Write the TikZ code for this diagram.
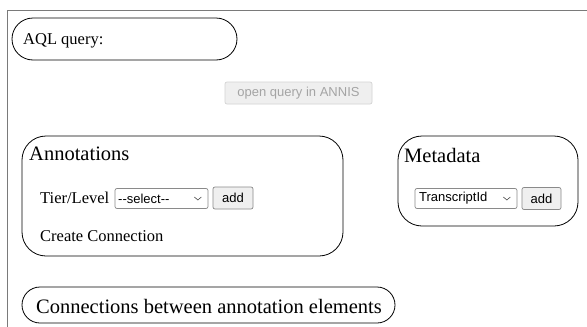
\documentclass[tikz,border=0pt]{standalone}
\usepackage{fontspec}
\setmainfont{Liberation Serif}
\newfontfamily\uisans{Liberation Sans}
\definecolor{btnfill}{HTML}{EFEFEF}
\definecolor{btnborder}{HTML}{8A8A8A}
\definecolor{disborder}{HTML}{D4D4D4}
\definecolor{distext}{HTML}{A4A4A4}
\definecolor{framecol}{HTML}{7A7A7A}
\begin{document}
\begin{tikzpicture}[x=1pt,y=-1pt,
  panel/.style={draw=black, line width=0.8pt, rectangle, inner sep=0pt},
  btn/.style={draw=btnborder, fill=btnfill, rounded corners=2pt, line width=0.7pt, inner sep=0pt, font=\uisans\fontsize{13}{15}\selectfont},
  disbtn/.style={draw=disborder, fill=btnfill, rounded corners=2pt, line width=0.7pt, inner sep=0pt, text=distext, font=\uisans\fontsize{13}{15}\selectfont},
  selectbox/.style={draw=btnborder, fill=white, rounded corners=2pt, line width=0.7pt, inner sep=0pt, font=\uisans\fontsize{13}{15}\selectfont},
  lbl/.style={anchor=west, inner sep=0pt, font=\fontsize{16.5}{19}\selectfont},
  title/.style={anchor=west, inner sep=0pt, font=\fontsize{20.5}{24}\selectfont},
  chev/.style={line width=0.6pt, draw=black!70}]
\useasboundingbox (0,0) rectangle (587,327);
\fill[white] (0,0) rectangle (587,327);
% outer frame
\coordinate (ftr) at (587,10);
\coordinate (ftl) at (7,10);
\coordinate (fbl) at (7,327);
\draw[framecol, line width=1pt] (ftr) -- (ftl) -- (fbl);
% AQL
\node[panel, rounded corners=21pt, minimum width=225pt, minimum height=42pt] (aql) at (124.5,39) {};
\node[lbl] (aqltext) at (23,41) {AQL query:};
% open query button
\node[disbtn, minimum width=147pt, minimum height=22pt] (openq) at (298.5,93) {open query in ANNIS};
% Annotations
\node[panel, rounded corners=24pt, minimum width=321pt, minimum height=120pt] (annot) at (182.5,196) {};
\node[title] (annottitle) at (29,154) {Annotations};
\node[lbl] (tier) at (40,198) {Tier/Level};
\node[selectbox, minimum width=93pt, minimum height=20pt] (sel1) at (161.5,198.5) {};
\node[anchor=west, inner sep=0pt, font=\uisans\fontsize{13}{15}\selectfont] (sel1text) at (118,198.5) {--select--};
\draw[chev] ([xshift=-14pt,yshift=1.5pt]sel1.east) -- ([xshift=-10.5pt,yshift=-1.5pt]sel1.east) -- ([xshift=-7pt,yshift=1.5pt]sel1.east);
\node[btn, minimum width=40pt, minimum height=22pt] (add1) at (233,198) {add};
\node[lbl] (conn) at (40,236) {Create Connection};
% Metadata
\node[panel, rounded corners=24pt, minimum width=180pt, minimum height=90pt] (meta) at (488,181) {};
\node[title] (metatitle) at (404,155) {Metadata};
\node[selectbox, minimum width=102pt, minimum height=20pt] (sel2) at (466,198.5) {};
\node[anchor=west, inner sep=0pt, font=\uisans\fontsize{13}{15}\selectfont] (sel2text) at (419,198.5) {TranscriptId};
\draw[chev] ([xshift=-14pt,yshift=1.5pt]sel2.east) -- ([xshift=-10.5pt,yshift=-1.5pt]sel2.east) -- ([xshift=-7pt,yshift=1.5pt]sel2.east);
\node[btn, minimum width=39pt, minimum height=22pt] (add2) at (541.5,198.5) {add};
% Connections
\node[panel, rounded corners=18pt, minimum width=373pt, minimum height=36pt] (conns) at (208.5,305) {};
\node[inner sep=0pt, font=\fontsize{20.5}{24}\selectfont] (connstext) at (209,306) {Connections between annotation elements};
\end{tikzpicture}
\end{document}
